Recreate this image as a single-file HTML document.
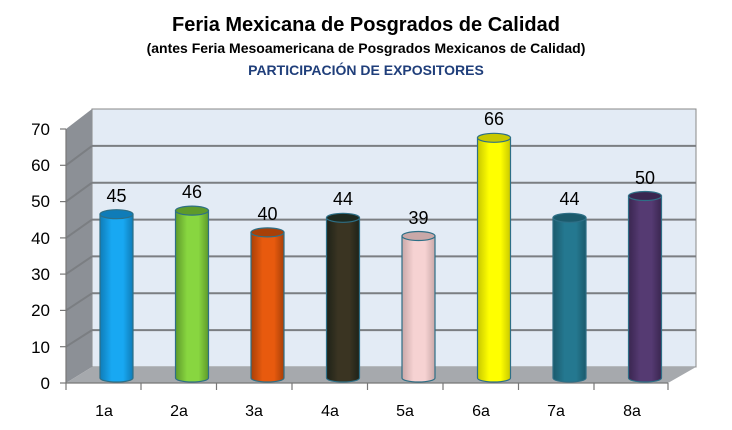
<!DOCTYPE html>
<html><head><meta charset="utf-8"><style>body{margin:0;background:#fff}svg{display:block}text{font-family:"Liberation Sans",sans-serif}</style></head><body>
<svg width="732" height="430" viewBox="0 0 732 430">
<defs>
<linearGradient id="g0"><stop offset="0" stop-color="#0f7cb8"/><stop offset=".35" stop-color="#18a8f2"/><stop offset=".7" stop-color="#18a8f2"/><stop offset="1" stop-color="#0f7cb8"/></linearGradient>
<linearGradient id="g1"><stop offset="0" stop-color="#5e9a2a"/><stop offset=".35" stop-color="#88d640"/><stop offset=".7" stop-color="#88d640"/><stop offset="1" stop-color="#5e9a2a"/></linearGradient>
<linearGradient id="g2"><stop offset="0" stop-color="#a84008"/><stop offset=".35" stop-color="#e85a0e"/><stop offset=".7" stop-color="#e85a0e"/><stop offset="1" stop-color="#a84008"/></linearGradient>
<linearGradient id="g3"><stop offset="0" stop-color="#1e2218"/><stop offset=".35" stop-color="#3a3422"/><stop offset=".7" stop-color="#3a3422"/><stop offset="1" stop-color="#1e2218"/></linearGradient>
<linearGradient id="g4"><stop offset="0" stop-color="#c9a8a8"/><stop offset=".35" stop-color="#f6d2d2"/><stop offset=".7" stop-color="#f6d2d2"/><stop offset="1" stop-color="#c9a8a8"/></linearGradient>
<linearGradient id="g5"><stop offset="0" stop-color="#c8c800"/><stop offset=".35" stop-color="#ffff00"/><stop offset=".7" stop-color="#ffff00"/><stop offset="1" stop-color="#c8c800"/></linearGradient>
<linearGradient id="g6"><stop offset="0" stop-color="#1b5a6c"/><stop offset=".35" stop-color="#247890"/><stop offset=".7" stop-color="#247890"/><stop offset="1" stop-color="#1b5a6c"/></linearGradient>
<linearGradient id="g7"><stop offset="0" stop-color="#3a2650"/><stop offset=".35" stop-color="#553a72"/><stop offset=".7" stop-color="#553a72"/><stop offset="1" stop-color="#3a2650"/></linearGradient>
</defs>
<text x="366" y="31" text-anchor="middle" font-size="20" font-weight="bold">Feria Mexicana de Posgrados de Calidad</text>
<text x="366" y="53" text-anchor="middle" font-size="14" font-weight="bold">(antes Feria Mesoamericana de Posgrados Mexicanos de Calidad)</text>
<text x="366" y="75" text-anchor="middle" font-size="14" font-weight="bold" fill="#1f3e7a">PARTICIPACIÓN DE EXPOSITORES</text>
<rect x="92" y="109" width="604" height="258" fill="#e3ebf5" stroke="#888" stroke-width="1"/>
<polygon points="66,129 92,109 92,367 66,383" fill="#8c9096"/>
<polygon points="92,367 696,367 668,383 66,383" fill="#a6a9ad"/>
<g stroke="#7b7e82" stroke-width="2">
<line x1="92" y1="330.1" x2="696" y2="330.1"/><line x1="92" y1="293.3" x2="696" y2="293.3"/><line x1="92" y1="256.4" x2="696" y2="256.4"/><line x1="92" y1="219.6" x2="696" y2="219.6"/><line x1="92" y1="182.7" x2="696" y2="182.7"/><line x1="92" y1="145.9" x2="696" y2="145.9"/>
<line x1="66" y1="346.7" x2="92" y2="330.1"/><line x1="66" y1="310.4" x2="92" y2="293.3"/><line x1="66" y1="274.1" x2="92" y2="256.4"/><line x1="66" y1="237.9" x2="92" y2="219.6"/><line x1="66" y1="201.6" x2="92" y2="182.7"/><line x1="66" y1="165.3" x2="92" y2="145.9"/>
</g>
<g stroke="#777" stroke-width="1.2" fill="none">
<line x1="66" y1="129" x2="66" y2="383"/><line x1="66" y1="383" x2="668" y2="383"/>
<line x1="60" y1="383" x2="66" y2="383"/><line x1="60" y1="346.7" x2="66" y2="346.7"/><line x1="60" y1="310.4" x2="66" y2="310.4"/><line x1="60" y1="274.1" x2="66" y2="274.1"/><line x1="60" y1="237.9" x2="66" y2="237.9"/><line x1="60" y1="201.6" x2="66" y2="201.6"/><line x1="60" y1="165.3" x2="66" y2="165.3"/><line x1="60" y1="129" x2="66" y2="129"/>
<line x1="66" y1="383" x2="66" y2="390"/><line x1="141" y1="383" x2="141" y2="390"/><line x1="216.5" y1="383" x2="216.5" y2="390"/><line x1="292" y1="383" x2="292" y2="390"/><line x1="367.5" y1="383" x2="367.5" y2="390"/><line x1="443" y1="383" x2="443" y2="390"/><line x1="518.5" y1="383" x2="518.5" y2="390"/><line x1="594" y1="383" x2="594" y2="390"/><line x1="668" y1="383" x2="668" y2="390"/>
</g>
<g font-size="17" text-anchor="end">
<text x="50" y="389">0</text><text x="50" y="353">10</text><text x="50" y="316">20</text><text x="50" y="280">30</text><text x="50" y="244">40</text><text x="50" y="207">50</text><text x="50" y="171">60</text><text x="50" y="135">70</text>
</g>
<g font-size="16" text-anchor="middle">
<text x="104" y="416">1a</text><text x="179" y="416">2a</text><text x="254" y="416">3a</text><text x="330" y="416">4a</text><text x="405" y="416">5a</text><text x="481" y="416">6a</text><text x="556" y="416">7a</text><text x="632" y="416">8a</text>
</g>
<g stroke="#2e6f86" stroke-width="1.2">
<path d="M100,214.2 L100,378 A16.5,4 0 0 0 133,378 L133,214.2 Z" fill="url(#g0)"/><ellipse cx="116.5" cy="214.2" rx="16.5" ry="4.5" fill="#0f7cb8"/>
<path d="M175.5,210.6 L175.5,378 A16.5,4 0 0 0 208.5,378 L208.5,210.6 Z" fill="url(#g1)"/><ellipse cx="192" cy="210.6" rx="16.5" ry="4.5" fill="#5e9a2a"/>
<path d="M251,232.4 L251,378 A16.5,4 0 0 0 284,378 L284,232.4 Z" fill="url(#g2)"/><ellipse cx="267.5" cy="232.4" rx="16.5" ry="4.5" fill="#a84008"/>
<path d="M326.5,217.8 L326.5,378 A16.5,4 0 0 0 359.5,378 L359.5,217.8 Z" fill="url(#g3)"/><ellipse cx="343" cy="217.8" rx="16.5" ry="4.5" fill="#1e2a20"/>
<path d="M402,236 L402,378 A16.5,4 0 0 0 435,378 L435,236 Z" fill="url(#g4)"/><ellipse cx="418.5" cy="236" rx="16.5" ry="4.5" fill="#c9a8a8"/>
<path d="M477.5,137.8 L477.5,378 A16.5,4 0 0 0 510.5,378 L510.5,137.8 Z" fill="url(#g5)"/><ellipse cx="494" cy="137.8" rx="16.5" ry="4.5" fill="#c8c800"/>
<path d="M553,217.8 L553,378 A16.5,4 0 0 0 586,378 L586,217.8 Z" fill="url(#g6)"/><ellipse cx="569.5" cy="217.8" rx="16.5" ry="4.5" fill="#1b5a6c"/>
<path d="M628.5,196 L628.5,378 A16.5,4 0 0 0 661.5,378 L661.5,196 Z" fill="url(#g7)"/><ellipse cx="645" cy="196" rx="16.5" ry="4.5" fill="#3a2650"/>
</g>
<g font-size="18" text-anchor="middle">
<text x="116.5" y="202">45</text><text x="192" y="198">46</text><text x="267.5" y="220">40</text><text x="343" y="205">44</text><text x="418.5" y="224">39</text><text x="494" y="125">66</text><text x="569.5" y="205">44</text><text x="645" y="184">50</text>
</g>
</svg></body></html>
